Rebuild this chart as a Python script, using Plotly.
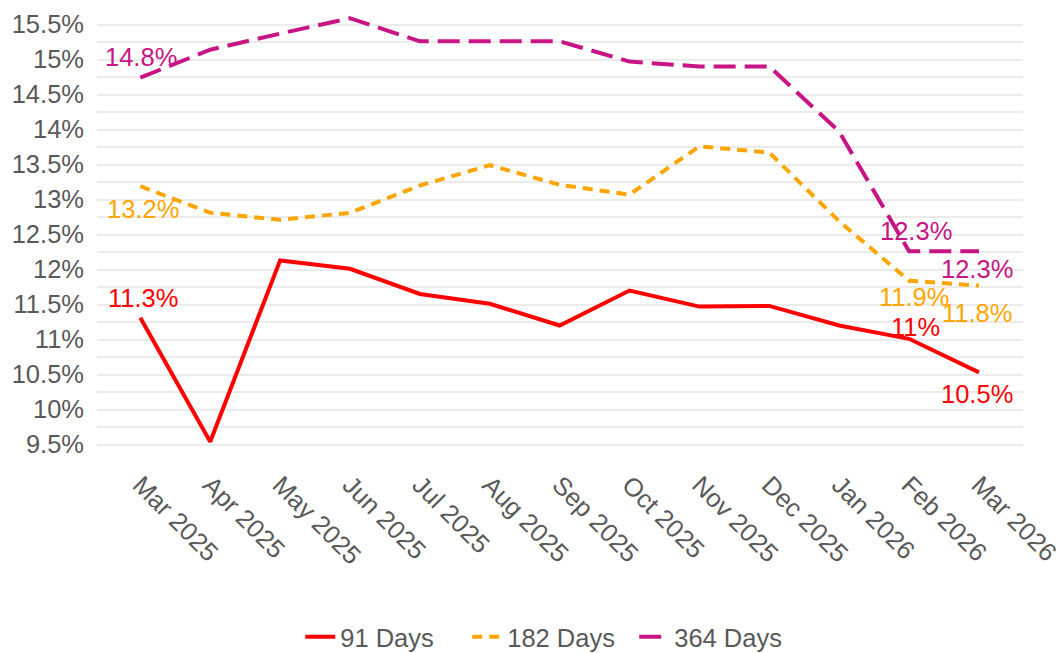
import plotly.graph_objects as go

months = ["Mar 2025", "Apr 2025", "May 2025", "Jun 2025", "Jul 2025", "Aug 2025",
          "Sep 2025", "Oct 2025", "Nov 2025", "Dec 2025", "Jan 2026", "Feb 2026", "Mar 2026"]
d91 = [11.31, 9.54, 12.13, 12.01, 11.65, 11.51, 11.20, 11.70, 11.47, 11.48, 11.20, 11.01, 10.53]
d182 = [13.19, 12.81, 12.71, 12.81, 13.20, 13.49, 13.21, 13.07, 13.76, 13.67, 12.69, 11.84, 11.77]
d364 = [14.74, 15.14, 15.37, 15.59, 15.26, 15.26, 15.26, 14.97, 14.90, 14.90, 13.97, 12.26, 12.26]

# labels: index -> (text, xshift, yshift)
labels_91 = {0: ("11.3%", 3, 20), 11: ("11%", 6, 12), 12: ("10.5%", -2, -22)}
labels_182 = {0: ("13.2%", 3, -23), 11: ("11.9%", 5, -16), 12: ("11.8%", -2, -27)}
labels_364 = {0: ("14.8%", 1, 21), 11: ("12.3%", 7, 20), 12: ("12.3%", -2, -18)}

FONT = "Liberation Sans, Arial, sans-serif"
FS = 25.5
red, orange, magenta = "#FF0000", "#FFA500", "#C71585"

fig = go.Figure()
fig.add_trace(go.Scatter(x=months, y=d91, name="91 Days", mode="lines",
                         line=dict(color=red, width=4)))
fig.add_trace(go.Scatter(x=months, y=d182, name="182 Days", mode="lines",
                         line=dict(color=orange, width=4, dash="10px,7px")))
fig.add_trace(go.Scatter(x=months, y=d364, name="364 Days", mode="lines",
                         line=dict(color=magenta, width=4, dash="22px,9px")))

for vals, labs, col in [(d91, labels_91, red), (d182, labels_182, orange), (d364, labels_364, magenta)]:
    for i, (txt, xs, ys) in labs.items():
        fig.add_annotation(x=months[i], y=vals[i], text=txt, showarrow=False,
                           xshift=xs, yshift=ys, font=dict(family=FONT, size=FS, color=col))

grid_vals = [9.25 + 0.25 * k for k in range(27)]
def fmt(v):
    if abs(v * 2 - round(v * 2)) > 1e-9:
        return ""
    s = f"{v:.1f}"
    if s.endswith(".0"):
        s = s[:-2]
    return s + "%"
grid_text = [fmt(v) for v in grid_vals]

fig.update_layout(
    width=1063, height=653,
    margin=dict(l=97, r=40, t=7, b=191, autoexpand=False),
    plot_bgcolor="white", paper_bgcolor="white",
    font=dict(family=FONT, size=FS, color="#595959"),
    showlegend=True,
    legend=dict(orientation="h", x=0.49, xanchor="center", y=-0.385, yanchor="middle",
                font=dict(size=FS, color="#595959"), itemwidth=30,
                entrywidth=122, entrywidthmode="pixels"),
    xaxis=dict(type="category", range=[-0.62, 12.63], showgrid=False, showline=False,
               zeroline=False, tickangle=45, ticks="", ticklabelstandoff=2, automargin=False,
               tickfont=dict(size=FS, color="#595959")),
    yaxis=dict(range=[9.25, 15.75], tickvals=grid_vals, ticktext=grid_text,
               showgrid=True, gridcolor="#EBEBEB", gridwidth=2, zeroline=False, automargin=False,
               showline=False, ticks="", ticklabelstandoff=12,
               tickfont=dict(size=FS, color="#595959")),
)

fig.write_html("out.html", config={"displayModeBar": False},
               post_script="document.body.style.margin='0';document.body.style.overflow='hidden';")
